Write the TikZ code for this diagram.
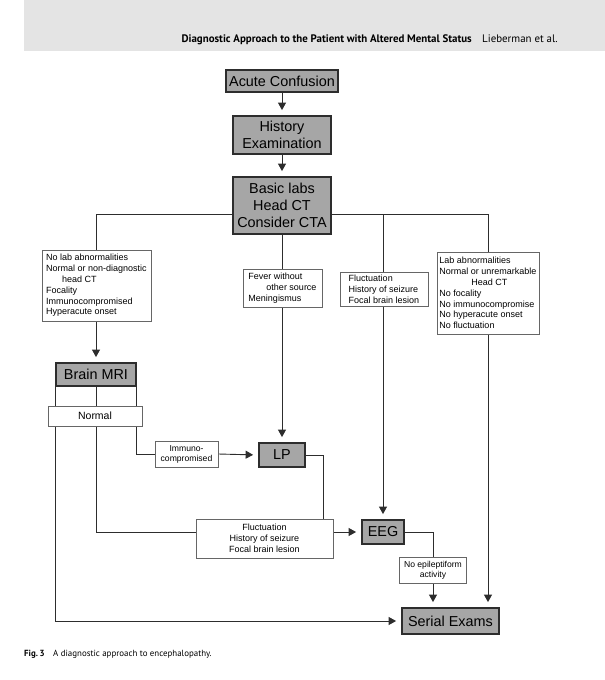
\documentclass[tikz,border=0pt]{standalone}
\usepackage{fontspec}
\setmainfont{Liberation Sans}
\newfontfamily\hdrfont{PT Sans}
\usetikzlibrary{arrows.meta,backgrounds}
\definecolor{hdrgray}{RGB}{228,228,228}
\definecolor{boxgray}{RGB}{166,166,166}
\definecolor{linec}{RGB}{45,45,45}
\newcommand\dbig{\fontsize{14.4}{17}\selectfont}
\newcommand\dsmall{\fontsize{9}{10.8}\selectfont}
\newcommand\dtiny{\fontsize{8.6}{10}\selectfont}
\tikzset{
  gbox/.style={draw=linec, line width=1.8pt, fill=boxgray, font=\dbig, inner sep=0pt, align=center},
  tbox/.style={draw=black!60, line width=0.7pt, fill=white, font=\dsmall, inner sep=0pt, align=left},
  conn/.style={draw=linec, line width=0.9pt},
  arr/.style={conn, -{Triangle[length=7.5pt,width=8pt]}, shorten >=5pt}
}
\begin{document}
\begin{tikzpicture}[x=1pt,y=-1pt]
\useasboundingbox (0,0) rectangle (605,680);
\fill[hdrgray] (24,0) rectangle (605,51);
\node[anchor=base east, font={\hdrfont\bfseries\fontsize{10.9}{12}\selectfont}, inner sep=0pt] (hdr1) at (472,42) {Diagnostic Approach to the Patient with Altered Mental Status};
\node[anchor=base west, font={\hdrfont\fontsize{10.9}{12}\selectfont}, inner sep=0pt] (hdr2) at (482,42) {Lieberman et al.};
\node[anchor=base west, font={\hdrfont\bfseries\fontsize{8.9}{10}\selectfont}, inner sep=0pt] (cap1) at (24,656) {Fig.\,3};
\node[anchor=base west, font={\hdrfont\fontsize{8.9}{10}\selectfont}, inner sep=0pt] (cap2) at (53,656) {A diagnostic approach to encephalopathy.};

% main boxes
\node[gbox, minimum width=112pt, minimum height=22pt] (ac) at (282,81) {Acute Confusion};
\node[gbox, minimum width=98pt, minimum height=38pt] (he) at (282,135) {History\\Examination};
\node[gbox, minimum width=98pt, minimum height=57pt] (bl) at (282,205.5) {Basic labs\\Head CT\\Consider CTA};

% condition boxes
\node[tbox, minimum width=109pt, minimum height=71pt] (t1) at (96.5,285.5) {No lab abnormalities\\Normal or non-diagnostic\\\hspace*{16pt}head CT\\Focality\\Immunocompromised\\Hyperacute onset};
\node[tbox, minimum width=79pt, minimum height=38pt] (t2) at (282.5,288) {Fever without\\\hspace*{18pt}other source\\Meningismus};
\node[tbox, minimum width=88pt, minimum height=34pt] (t3) at (384,289) {Fluctuation\\History of seizure\\Focal brain lesion};
\node[tbox, minimum width=102pt, minimum height=82pt] (t4) at (488,293) {Lab abnormalities\\Normal or unremarkable\\\hspace*{32pt}Head CT\\No focality\\No immunocompromise\\No hyperacute onset\\No fluctuation};

\node[gbox, minimum width=80pt, minimum height=23pt] (mri) at (96,374.5) {Brain MRI};
\node[tbox, align=center, font=\fontsize{10.5}{12}\selectfont, minimum width=94pt, minimum height=20pt] (nor) at (95,416) {Normal};
\node[tbox, align=center, font=\dtiny, minimum width=63pt, minimum height=26pt] (imm) at (186.5,454) {Immuno-\\compromised};
\node[gbox, minimum width=46pt, minimum height=24pt] (lp) at (282,455) {LP};
\node[tbox, align=center, minimum width=137pt, minimum height=39pt] (fl2) at (264.5,538.5) {Fluctuation\\History of seizure\\Focal brain lesion};
\node[gbox, minimum width=42pt, minimum height=24pt] (eeg) at (383,532) {EEG};
\node[tbox, align=center, font=\dtiny, minimum width=67pt, minimum height=26pt] (noe) at (433,570) {No epileptiform\\activity};
\node[gbox, minimum width=97pt, minimum height=26pt] (se) at (450.5,621) {Serial Exams};

\coordinate (j1) at (96,214);
\coordinate (j3) at (383,214);
\coordinate (j4) at (488,214);
\coordinate (k1) at (323,519);

\begin{pgfonlayer}{background}
\draw[arr] (ac) -- (he);
\draw[arr] (he) -- (bl);
\draw[conn] (j1) -- (j4);
\draw[arr] (j1) -- (mri.north);
\draw[arr] (bl.south) -- (lp.north);
\draw[arr] (j3) -- (eeg.north);
\draw[arr] (j4) -- (j4 |- se.north);
\draw[arr] (mri.south west) |- (se.west);
\draw[conn] (mri.south) |- (fl2.west |- eeg.west);
\draw[conn] (mri.south east) |- (imm.west);
\draw[arr] (imm.east) -- (lp.west);
\draw[conn] (lp.east) -| (k1);
\draw[arr] (fl2.east |- eeg.west) -- (eeg.west);
\draw[conn] (eeg.east) -| (noe.north);
\draw[arr] (noe.south) -- (noe.south |- se.north);
\end{pgfonlayer}
\end{tikzpicture}
\end{document}
